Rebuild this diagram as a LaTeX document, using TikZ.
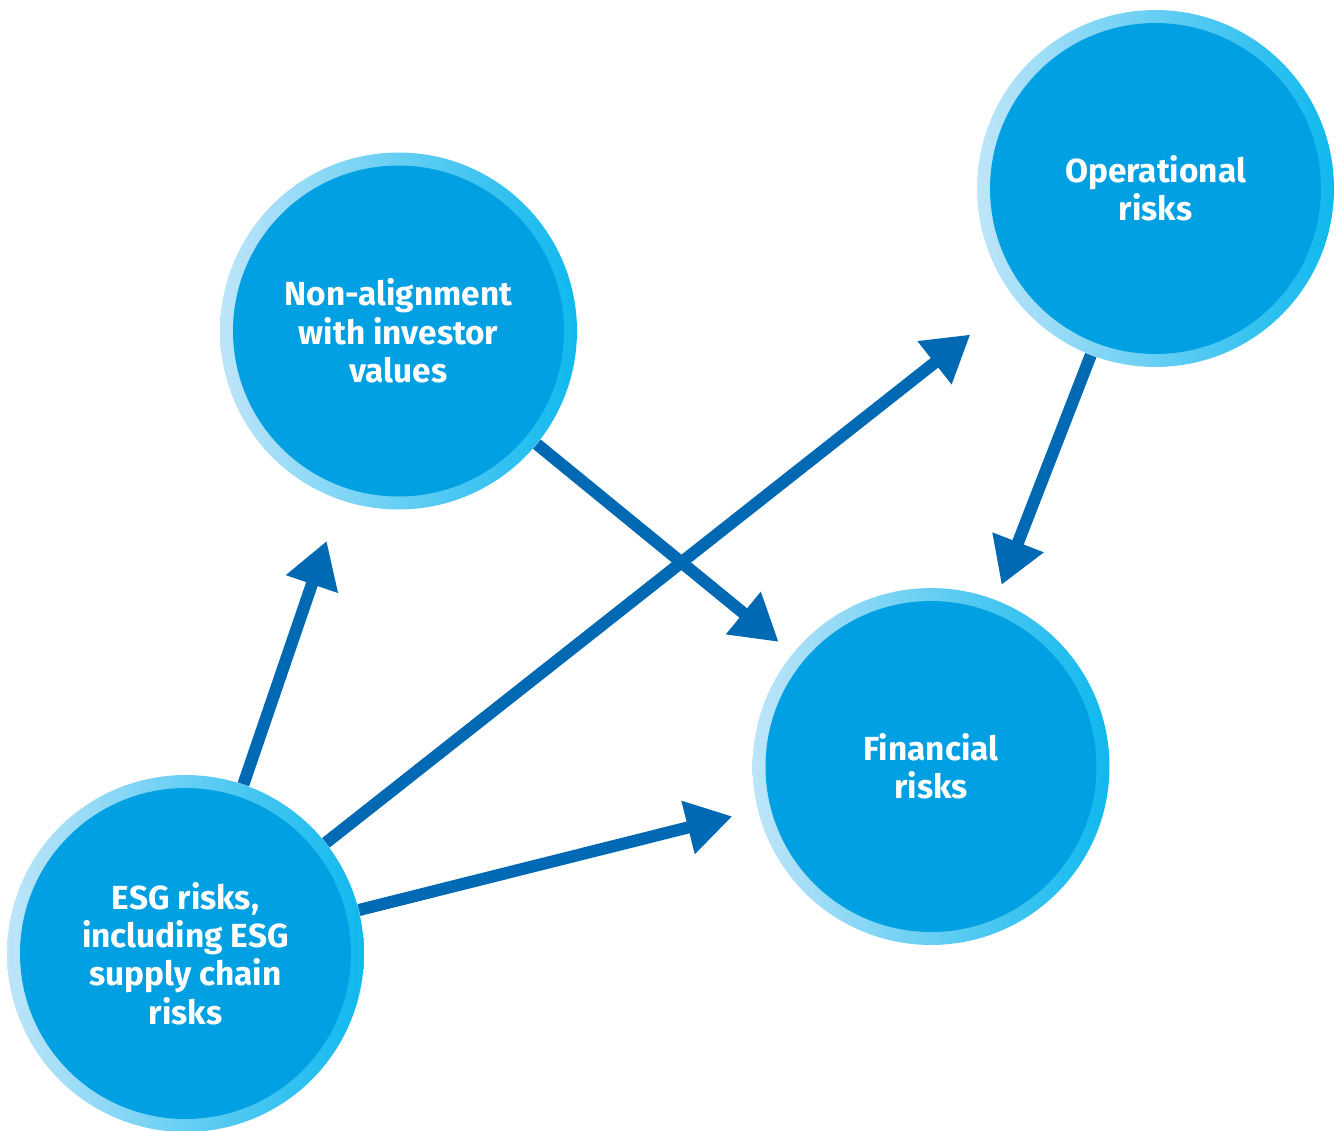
\documentclass[tikz,border=0pt]{standalone}
\usepackage{fontspec}
\setmainfont{Fira Sans}
\usepackage{xcolor}
\usepackage{tikz}
\usetikzlibrary{arrows.meta}

\definecolor{ringlight}{HTML}{BEE5F9}
\definecolor{ringcyan}{HTML}{0FB8EE}
\definecolor{riskcore}{HTML}{00A0E2}
\definecolor{flowblue}{HTML}{0069B4}

\begin{document}
\begin{tikzpicture}[x=0.02cm, y=-0.02cm,
    risk/.style={circle, draw=none, inner sep=0pt, minimum size=7.14cm,
        left color=ringlight, right color=ringcyan,
        path picture={\fill[riskcore] (path picture bounding box.center) circle (3.31cm);},
        text=white, align=center, font=\fontsize{19}{21.8}\selectfont\bfseries},
    flow/.style={draw=flowblue, line width=6.9pt,
        -{Triangle[length=26pt, width=29.5pt]}}]
        \useasboundingbox (0,0) rectangle (1338,1130);

        % Risk circles.
        \node[risk] (esg) at (185.5,953.5) {ESG risks,\\including ESG\\supply chain\\risks};
        \node[risk] (nonalign) at (398.5,331) {Non-alignment\\with investor\\values};
        \node[risk] (oper) at (1155.5,188.5) {Operational\\risks};
        \node[risk] (fin) at (931,766.5) {Financial\\risks};

        % Links between risks.
        \draw[flow, shorten >=0.86cm] (esg) -- (nonalign);
        \draw[flow, shorten >=1.14cm] (esg) -- (oper);
        \draw[flow, shorten >=0.52cm] (esg) -- (fin);
        \draw[flow, shorten >=0.36cm] (nonalign) -- (fin);
        \draw[flow, shorten >=0.32cm] (oper) -- (fin);
\end{tikzpicture}
\end{document}
